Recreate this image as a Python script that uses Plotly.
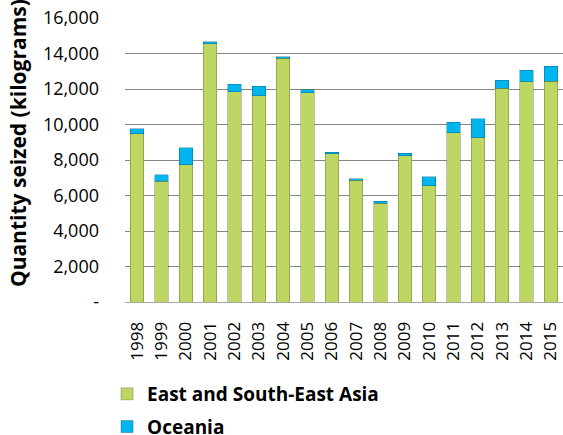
import plotly.graph_objects as go

years = [str(y) for y in range(1998, 2016)]
east_asia = [9470, 6800, 7720, 14550, 11850, 11630, 13740, 11800, 8360,
             6860, 5570, 8230, 6540, 9525, 9260, 12050, 12410, 12450]
oceania = [300, 380, 960, 100, 430, 520, 80, 150, 75,
           95, 95, 150, 510, 600, 1070, 450, 640, 830]

y_ticks = [0, 2000, 4000, 6000, 8000, 10000, 12000, 14000, 16000]
y_tick_text = ["-", "2,000", "4,000", "6,000", "8,000", "10,000", "12,000", "14,000", "16,000"]

font = "'Open Sans', Lato, sans-serif"

fig = go.Figure()
fig.add_trace(go.Bar(
    x=years, y=east_asia, name="East and South-East Asia", legendgroup="a",
    marker=dict(color="#BDD762", line=dict(color="rgba(70,90,50,0.5)", width=0.7)),
))
fig.add_trace(go.Bar(
    x=years, y=oceania, name="Oceania", legendgroup="b",
    marker=dict(color="#00B4EE", line=dict(color="rgba(0,80,110,0.5)", width=0.7)),
))

fig.update_layout(
    barmode="stack",
    bargap=0.45,
    width=563, height=435,
    margin=dict(l=125, r=0, t=18, b=133, autoexpand=False),
    plot_bgcolor="white", paper_bgcolor="white",
    font=dict(family=font, color="black"),
    showlegend=True,
    legend=dict(
        x=-0.041, xanchor="left", y=-0.257, yanchor="top",
        font=dict(size=19, family=font, weight="bold"),
        traceorder="grouped", tracegroupgap=5,
    ),
)

# y title as annotation so it can sit a little above the plot centre, like the original
fig.add_annotation(
    text="Quantity seized (kilograms)", textangle=-90,
    xref="paper", yref="paper", x=-0.244, y=0.56,
    xanchor="center", yanchor="middle",
    showarrow=False, font=dict(size=21, weight="bold"),
)

fig.update_xaxes(
    type="category", tickangle=-90, tickfont=dict(size=17), ticklabelstandoff=12,
    showgrid=False, showline=True, linecolor="#A6A6A6", linewidth=1,
    ticks="", range=[-0.5, 17.5], automargin=False,
)
fig.update_yaxes(
    range=[0, 16000], tickvals=y_ticks, ticktext=y_tick_text,
    tickfont=dict(size=18), ticklabelstandoff=25,
    showgrid=True, gridcolor="#868686", gridwidth=1,
    zeroline=False, showline=False, ticks="", automargin=False,
)

fig.write_html("out.html", config={"displayModeBar": False},
               post_script="document.body.style.margin='0';")
